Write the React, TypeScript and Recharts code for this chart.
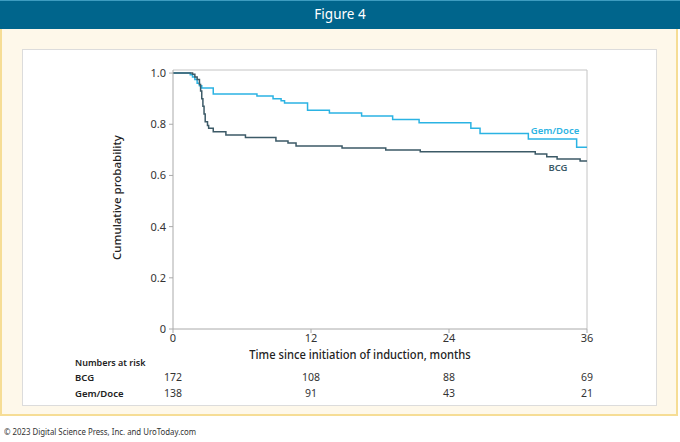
import { LineChart, Line, XAxis, YAxis, ReferenceLine } from 'recharts';

// Kaplan-Meier steps: [months, cumulative probability]
const gemDoceT = [0, 1.5, 1.7, 1.9, 2.1, 2.3, 2.5, 3.5, 7.3, 8.7, 9.4, 9.7, 11.7, 13.6, 16.4, 19.1, 21.4, 25.9, 26.7, 30.9, 35.1, 36];
const gemDoceS = [1.0, 0.993, 0.985, 0.975, 0.96, 0.95, 0.942, 0.918, 0.91, 0.9, 0.892, 0.883, 0.855, 0.844, 0.832, 0.819, 0.806, 0.784, 0.764, 0.742, 0.71, 0.71];

const bcgT = [0, 1.7, 1.9, 2.1, 2.3, 2.4, 2.5, 2.6, 2.7, 2.8, 3.0, 3.1, 3.5, 4.6, 6.3, 8.95, 10.0, 10.7, 14.7, 18.5, 21.5, 31.5, 32.5, 33.4, 35.4, 36];
const bcgS = [1.0, 0.995, 0.985, 0.975, 0.955, 0.93, 0.9, 0.87, 0.84, 0.81, 0.795, 0.784, 0.771, 0.758, 0.748, 0.735, 0.727, 0.715, 0.707, 0.699, 0.693, 0.684, 0.673, 0.664, 0.656, 0.656];

const xTicks = [0, 12, 24, 36];
const yTicks = [0, 0.2, 0.4, 0.6, 0.8, 1.0];

const riskTimes = [0, 12, 24, 36];
const riskBCG = [172, 108, 88, 69];
const riskGemDoce = [138, 91, 43, 21];

const BLUE = '#2bb3e3';
const DARK = '#3c5a67';
const FONT = '"Noto Sans", "Open Sans", sans-serif';

const gemDoce = gemDoceT.map((t, i) => ({ t, s: gemDoceS[i] }));
const bcg = bcgT.map((t, i) => ({ t, s: bcgS[i] }));

// plot box in page pixels
const PLOT_L = 173;
const PLOT_R = 587;
const xPx = (t: number) => PLOT_L + (t / 36) * (PLOT_R - PLOT_L);

function yTickFmt(v: number) {
    if (v === 0) return '0';
    return v.toFixed(1);
}

export default function App() {
    return (
        <div style={{ position: 'fixed', left: 0, top: 0, width: 680, height: 442, background: '#fff', fontFamily: FONT, overflow: 'hidden' }}>
            {/* header band */}
            <div style={{
                position: 'absolute', left: 0, top: 0, width: 680, height: 29, background: '#00658c',
                borderTop: '1px solid #3d9cc0', boxSizing: 'border-box',
                color: '#fff', fontSize: 13.5, lineHeight: '27px', textAlign: 'center',
            }}>Figure 4</div>
            {/* cream frame */}
            <div style={{
                position: 'absolute', left: 0, top: 29, width: 678, height: 387, background: '#fef8ea',
                borderLeft: '2px solid #f6dd95', borderRight: '2px solid #f6dd95', borderBottom: '2px solid #f6dd95',
                boxSizing: 'border-box',
            }} />
            {/* white panel */}
            <div style={{
                position: 'absolute', left: 22, top: 49, width: 635, height: 357, background: '#fff',
                border: '1px solid #dcdcdc', boxSizing: 'border-box',
            }} />

            <div style={{ position: 'absolute', left: 0, top: 0 }}>
                <LineChart width={680} height={360} margin={{ top: 70, right: 93, left: 123, bottom: 0 }}>
                    <XAxis
                        dataKey="t"
                        type="number"
                        domain={[0, 36]}
                        ticks={xTicks}
                        height={31}
                        tick={{ fontSize: 11, fill: '#333', fontFamily: FONT }}
                        tickSize={4}
                        tickMargin={1}
                        stroke="#aaa"
                        allowDuplicatedCategory={false}
                    />
                    <YAxis
                        type="number"
                        domain={[0, 1.012]}
                        ticks={yTicks}
                        width={50}
                        tickFormatter={yTickFmt}
                        tick={{ fontSize: 11, fill: '#333', fontFamily: FONT }}
                        tickSize={4}
                        tickMargin={3}
                        stroke="#aaa"
                        allowDataOverflow
                    />
                    <ReferenceLine y={1.012} stroke="#c4c4c4" strokeWidth={1} />
                    <ReferenceLine x={36} stroke="#c4c4c4" strokeWidth={1} />
                    <Line data={gemDoce} dataKey="s" type="stepAfter" stroke={BLUE} strokeWidth={1.5} dot={false} isAnimationActive={false} />
                    <Line data={bcg} dataKey="s" type="stepAfter" stroke={DARK} strokeWidth={1.5} dot={false} isAnimationActive={false} />
                </LineChart>
            </div>

            {/* series labels */}
            <div style={{ position: 'absolute', left: 530, top: 124, width: 50, textAlign: 'center', fontSize: 9.5, fontWeight: 600, color: BLUE }}>Gem/Doce</div>
            <div style={{ position: 'absolute', left: 540, top: 161, width: 36, textAlign: 'center', fontSize: 9.5, fontWeight: 600, color: DARK }}>BCG</div>

            {/* y axis title */}
            <div style={{
                position: 'absolute', left: 116, top: 199, width: 0, height: 0,
            }}>
                <div style={{
                    position: 'absolute', left: -80, top: -9, width: 160, textAlign: 'center',
                    transform: 'rotate(-90deg)', fontSize: 11.5, fontWeight: 500, color: '#222', whiteSpace: 'nowrap',
                }}>Cumulative probability</div>
            </div>

            {/* x axis title */}
            <div style={{
                position: 'absolute', left: 230, top: 346, width: 260, textAlign: 'center', fontSize: 12, fontWeight: 500,
                color: '#222', whiteSpace: 'nowrap', transform: 'scaleX(0.93)', transformOrigin: '130px 0',
            }}>
                Time since initiation of induction, months
            </div>

            {/* numbers at risk */}
            <div style={{ position: 'absolute', left: 75, top: 356, fontSize: 9, fontWeight: 600, color: '#222' }}>Numbers at risk</div>
            <div style={{ position: 'absolute', left: 75, top: 371, fontSize: 9.5, fontWeight: 600, color: '#222' }}>BCG</div>
            <div style={{ position: 'absolute', left: 75, top: 387, fontSize: 9.5, fontWeight: 600, color: '#222' }}>Gem/Doce</div>
            {riskTimes.map((t, i) => (
                <div key={'b' + t} style={{ position: 'absolute', left: xPx(t) - 20, top: 370, width: 40, textAlign: 'center', fontSize: 10.5, color: '#333' }}>{riskBCG[i]}</div>
            ))}
            {riskTimes.map((t, i) => (
                <div key={'g' + t} style={{ position: 'absolute', left: xPx(t) - 20, top: 386, width: 40, textAlign: 'center', fontSize: 10.5, color: '#333' }}>{riskGemDoce[i]}</div>
            ))}

            {/* footer */}
            <div style={{
                position: 'absolute', left: 4, top: 425, fontSize: 9, color: '#333', whiteSpace: 'nowrap',
                transform: 'scaleX(0.87)', transformOrigin: '0 0',
            }}>
                © 2023 Digital Science Press, Inc. and UroToday.com
            </div>
        </div>
    );
}
